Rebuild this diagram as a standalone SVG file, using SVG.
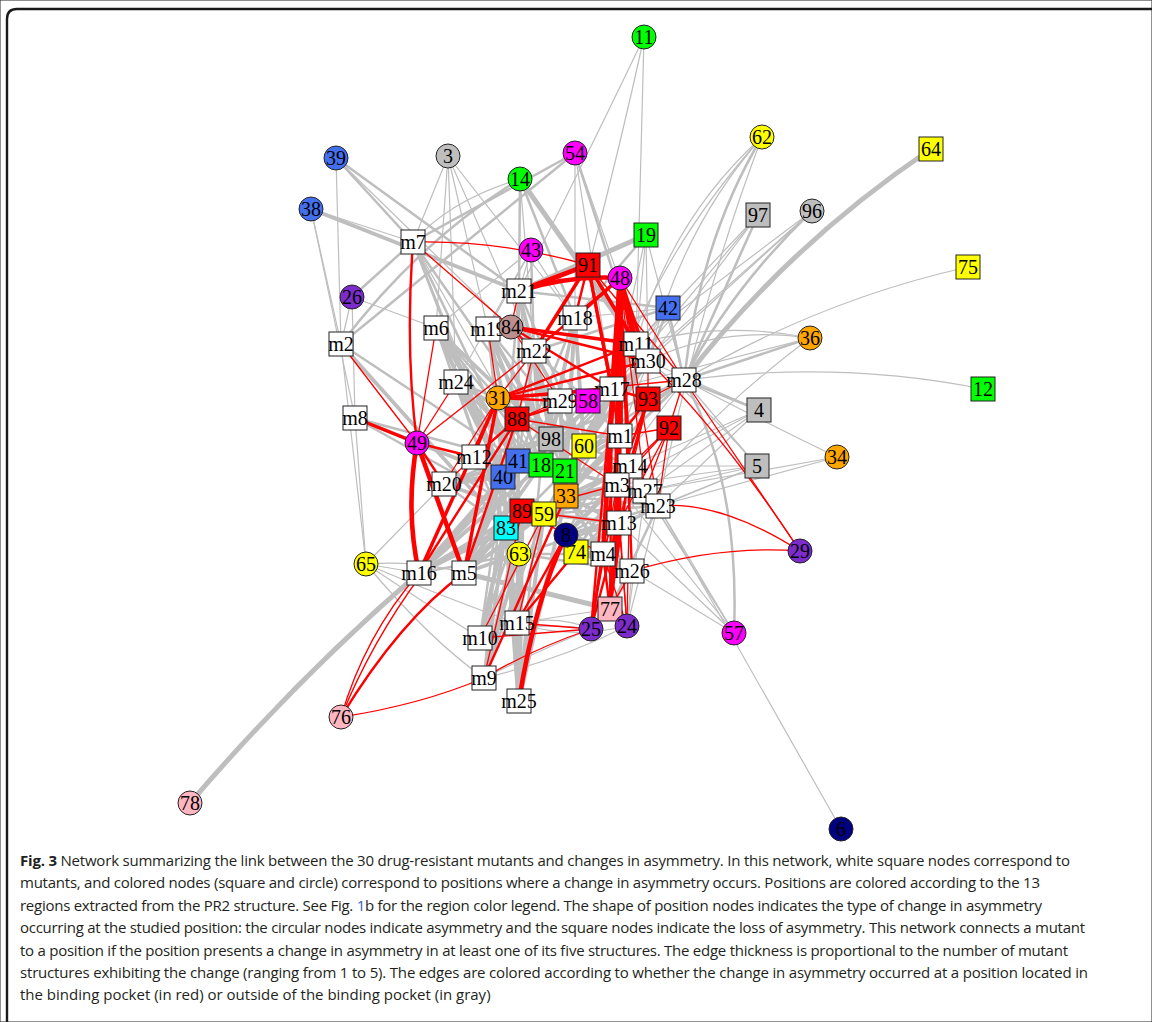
<svg xmlns="http://www.w3.org/2000/svg" width="1152" height="1022" viewBox="0 0 1152 1022">
<style>
path{fill:none;stroke-linecap:round}
.g1{stroke:#bebebe;stroke-width:1.2}.g2{stroke:#bebebe;stroke-width:2.5}.g3{stroke:#bebebe;stroke-width:3.8}.g4{stroke:#bebebe;stroke-width:5}.g5{stroke:#bebebe;stroke-width:6.3}
.r1{stroke:#f00;stroke-width:1.3}.r2{stroke:#f00;stroke-width:2.4}.r3{stroke:#f00;stroke-width:3.5}.r4{stroke:#f00;stroke-width:4.6}.r5{stroke:#f00;stroke-width:5.8}
circle,rect{stroke:#222;stroke-width:1}
.w{fill:#fff}.ye{fill:#ff0}.gr{fill:#0f0}.bl{fill:#4470f0}.mg{fill:#f0f}.gy{fill:#bebebe}.pu{fill:#7b2ccb}.or{fill:#ffa500}.rd{fill:#f00}.cy{fill:#0ff}.nv{fill:#000080}.pk{fill:#ffb6c1}.rb{fill:#bc8f8f}
text.t{font-family:"Liberation Serif",serif;font-size:20px;text-anchor:middle;dominant-baseline:central;fill:#000}
.cap{font-family:"Open Sans","Liberation Sans",sans-serif;font-size:15px;fill:#231f20}
</style>
<rect width="1152" height="1022" fill="#fff" stroke="none"/>
<path d="M7 1022V19Q7 9 17 9H1152" stroke="#1a1a1a" stroke-width="2.4"/>
<g id="connectors">
<g id="edges-gray">
<path class="g1" d="M644 37Q590 150 519 291"/><path class="g1" d="M644 37Q615 170 575 318"/><path class="g1" d="M644 37L636 344"/>
<path class="g2" d="M336 158L413 242"/><path class="g1" d="M336 158L341 344"/><path class="g2" d="M336 158L519 291"/><path class="g1" d="M336 158L534 351"/>
<path class="g1" d="M311 209L413 242"/><path class="g3" d="M311 209L519 291"/><path class="g1" d="M311 209L355 418"/><path class="g1" d="M311 209L341 344"/>
<path class="g1" d="M448 156L413 242"/><path class="g1" d="M448 156L436 328"/><path class="g1" d="M448 156L488 329"/><path class="g1" d="M448 156L534 351"/><path class="g1" d="M448 156L575 318"/><path class="g1" d="M448 156L456 382"/>
<path class="g2" d="M575 153L413 242"/><path class="g2" d="M575 153L341 344"/><path class="g1" d="M575 153L575 318"/><path class="g2" d="M575 153L636 344"/><path class="g1" d="M575 153L648 361"/><path class="g1" d="M575 153L612 389"/>
<path class="g4" d="M520 179L648 361"/><path class="g2" d="M520 179L519 291"/><path class="g2" d="M520 179Q420 240 341 344"/><path class="g1" d="M520 179Q450 200 413 242"/><path class="g1" d="M520 179L534 351"/><path class="g2" d="M520 179L575 318"/>
<path class="g1" d="M531 250L519 291"/><path class="g2" d="M531 250L534 351"/><path class="g1" d="M531 250L488 329"/><path class="g1" d="M531 250L456 382"/><path class="g1" d="M531 250L575 318"/><path class="g1" d="M531 250L436 328"/>
<path class="g4" d="M646 235L519 291"/><path class="g1" d="M646 235L684 380"/><path class="g1" d="M646 235L636 344"/><path class="g1" d="M646 235L648 361"/><path class="g1" d="M646 235L612 389"/><path class="g2" d="M646 235L575 318"/>
<path class="g2" d="M762 137Q700 240 684 380"/><path class="g1" d="M762 137Q680 230 648 361"/><path class="g1" d="M762 137Q670 220 636 344"/><path class="g1" d="M762 137Q700 300 658 506"/><path class="g1" d="M762 137Q660 250 612 389"/>
<path class="g4" d="M931 149Q787 246 684 380"/>
<path class="g2" d="M758 215L684 380"/><path class="g1" d="M758 215L648 361"/><path class="g1" d="M758 215L636 344"/><path class="g1" d="M758 215L612 389"/>
<path class="g2" d="M812 211Q730 290 684 380"/><path class="g1" d="M812 211L648 361"/><path class="g1" d="M812 211L636 344"/><path class="g1" d="M812 211L612 389"/>
<path class="g1" d="M968 267Q820 300 684 380"/><path class="g1" d="M983 389Q840 360 684 380"/>
<path class="g2" d="M810 338L684 380"/><path class="g1" d="M810 338Q720 325 648 361"/><path class="g1" d="M810 338Q720 320 636 344"/><path class="g1" d="M810 338L612 389"/><path class="g1" d="M810 338Q700 420 619 523"/>
<path class="g2" d="M668 308L684 380"/><path class="g1" d="M668 308L636 344"/><path class="g2" d="M668 308L648 361"/><path class="g1" d="M668 308L612 389"/><path class="g1" d="M668 308L575 318"/><path class="g2" d="M668 308L534 351"/><path class="g2" d="M668 308L519 291"/><path class="g1" d="M668 308L620 436"/>
<path class="g2" d="M759 410L684 380"/><path class="g1" d="M759 410L648 361"/><path class="g1" d="M759 410L630 466"/><path class="g1" d="M759 410L645 491"/><path class="g1" d="M759 410L658 506"/><path class="g1" d="M759 410L617 485"/>
<path class="g1" d="M757 466L684 380"/><path class="g1" d="M757 466Q700 400 648 361"/><path class="g1" d="M757 466L630 466"/><path class="g1" d="M757 466L645 491"/><path class="g1" d="M757 466L658 506"/><path class="g1" d="M757 466L617 485"/><path class="g1" d="M757 466L619 523"/>
<path class="g1" d="M837 457Q760 420 684 380"/><path class="g1" d="M837 457L645 491"/><path class="g1" d="M837 457L658 506"/>
<path class="g2" d="M734 633Q740 480 684 380"/><path class="g1" d="M734 633L658 506"/><path class="g1" d="M734 633L645 491"/><path class="g1" d="M734 633L632 571"/><path class="g1" d="M734 633L619 523"/><path class="g1" d="M734 633L617 485"/><path class="g1" d="M734 633L630 466"/>
<path class="g1" d="M841 829L658 506"/>
<path class="g1" d="M366 564L419 573"/><path class="g1" d="M366 564Q420 560 464 573"/><path class="g1" d="M366 564L444 484"/><path class="g1" d="M366 564L341 344"/><path class="g1" d="M366 564L355 418"/><path class="g1" d="M366 564Q420 600 480 638"/><path class="g1" d="M366 564Q430 640 484 678"/><path class="g1" d="M366 564Q450 600 517 623"/>
<path class="g4" d="M190 803Q300 675 419 573"/>
<path class="g2" d="M352 297L413 242"/><path class="g1" d="M352 297L341 344"/><path class="g1" d="M352 297L436 328"/><path class="g1" d="M352 297L355 418"/>
<path class="g3" d="M341 344L506 528"/><path class="g2" d="M341 344L518 461"/><path class="g3" d="M355 418L503 477"/><path class="g2" d="M355 418L518 461"/><path class="g2" d="M355 418L522 511"/>
<path class="g4" d="M464 573L610 609"/><path class="g1" d="M517 623L610 609"/><path class="g2" d="M632 571L610 609"/><path class="g2" d="M658 506L610 609"/>
<path class="g1" d="M517 623Q560 615 591 629"/><path class="g1" d="M480 638Q540 620 591 629"/><path class="g1" d="M484 678Q540 650 591 629"/><path class="g1" d="M632 571L591 629"/><path class="g1" d="M632 571L627 626"/><path class="g1" d="M658 506L627 626"/><path class="g1" d="M645 491L627 626"/><path class="g1" d="M517 623Q570 640 627 626"/><path class="g1" d="M484 678Q560 660 627 626"/>
<path class="g2" d="M588 401L612 389"/><path class="g2" d="M588 401L620 436"/><path class="g2" d="M588 401L534 351"/><path class="g2" d="M498 398L456 382"/><path class="g2" d="M498 398L436 328"/>
<path class="g5" d="M519 701L519 554"/><path class="g4" d="M519 701L506 528"/><path class="g4" d="M519 701L522 511"/><path class="g3" d="M519 701L544 514"/><path class="g3" d="M519 701L503 477"/><path class="g3" d="M519 701L518 461"/><path class="g2" d="M519 701L541 465"/><path class="g3" d="M519 701L566 496"/>
<path class="g3" d="M484 678L506 528"/><path class="g3" d="M484 678L519 554"/><path class="g3" d="M484 678L522 511"/><path class="g2" d="M484 678L503 477"/><path class="g2" d="M484 678L544 514"/>
<path class="g3" d="M480 638L506 528"/><path class="g2" d="M480 638L519 554"/><path class="g2" d="M480 638L522 511"/><path class="g2" d="M480 638L503 477"/><path class="g2" d="M480 638L518 461"/>
<path class="g3" d="M517 623L519 554"/><path class="g3" d="M517 623L506 528"/><path class="g2" d="M517 623L522 511"/><path class="g2" d="M517 623L544 514"/><path class="g2" d="M517 623L503 477"/>
<path class="g4" d="M419 573L503 477"/><path class="g3" d="M419 573L518 461"/><path class="g4" d="M419 573L506 528"/><path class="g3" d="M419 573L522 511"/><path class="g3" d="M419 573L551 439"/><path class="g3" d="M419 573L541 465"/><path class="g2" d="M419 573L519 554"/><path class="g2" d="M419 573L544 514"/>
<path class="g4" d="M464 573L506 528"/><path class="g4" d="M464 573L503 477"/><path class="g4" d="M464 573L522 511"/><path class="g3" d="M464 573L519 554"/><path class="g3" d="M464 573L518 461"/><path class="g3" d="M464 573L541 465"/><path class="g2" d="M464 573L565 471"/><path class="g3" d="M464 573L566 496"/><path class="g3" d="M464 573L544 514"/><path class="g2" d="M464 573L551 439"/>
<path class="g3" d="M444 484L503 477"/><path class="g3" d="M444 484L518 461"/><path class="g3" d="M444 484L522 511"/><path class="g2" d="M444 484L551 439"/><path class="g2" d="M444 484L541 465"/><path class="g2" d="M444 484L506 528"/>
<path class="g3" d="M474 457L518 461"/><path class="g3" d="M474 457L503 477"/><path class="g3" d="M474 457L541 465"/><path class="g3" d="M474 457L551 439"/><path class="g2" d="M474 457L522 511"/><path class="g2" d="M474 457L565 471"/><path class="g2" d="M474 457L506 528"/>
<path class="g3" d="M456 382L518 461"/><path class="g3" d="M456 382L551 439"/><path class="g3" d="M456 382L503 477"/><path class="g2" d="M456 382L541 465"/><path class="g2" d="M456 382L522 511"/><path class="g2" d="M456 382L506 528"/>
<path class="g4" d="M436 328L518 461"/><path class="g3" d="M436 328L503 477"/><path class="g3" d="M436 328L551 439"/><path class="g2" d="M436 328L522 511"/><path class="g2" d="M436 328L541 465"/><path class="g2" d="M436 328L506 528"/>
<path class="g3" d="M488 329L551 439"/><path class="g3" d="M488 329L518 461"/><path class="g3" d="M488 329L541 465"/><path class="g2" d="M488 329L565 471"/><path class="g2" d="M488 329L584 446"/><path class="g2" d="M488 329L503 477"/>
<path class="g3" d="M534 351L551 439"/><path class="g3" d="M534 351L541 465"/><path class="g3" d="M534 351L565 471"/><path class="g3" d="M534 351L584 446"/><path class="g2" d="M534 351L518 461"/><path class="g2" d="M534 351L566 496"/><path class="g2" d="M534 351L503 477"/>
<path class="g2" d="M519 291L551 439"/><path class="g2" d="M519 291L518 461"/><path class="g2" d="M519 291L541 465"/><path class="g2" d="M519 291L584 446"/><path class="g2" d="M519 291L565 471"/><path class="g2" d="M519 291L503 477"/>
<path class="g2" d="M575 318L551 439"/><path class="g3" d="M575 318L584 446"/><path class="g3" d="M575 318L565 471"/><path class="g2" d="M575 318L541 465"/><path class="g2" d="M575 318L566 496"/><path class="g2" d="M575 318L518 461"/>
<path class="g2" d="M413 242L518 461"/><path class="g2" d="M413 242L551 439"/><path class="g2" d="M413 242L503 477"/><path class="g1" d="M413 242L541 465"/><path class="g1" d="M413 242L522 511"/>
<path class="g3" d="M560 401L551 439"/><path class="g3" d="M560 401L584 446"/><path class="g3" d="M560 401L565 471"/><path class="g3" d="M560 401L566 496"/><path class="g2" d="M560 401L541 465"/><path class="g2" d="M560 401L518 461"/>
<path class="g3" d="M612 389L584 446"/><path class="g3" d="M612 389L565 471"/><path class="g3" d="M612 389L551 439"/><path class="g3" d="M612 389L566 496"/><path class="g2" d="M612 389L541 465"/><path class="g2" d="M612 389L544 514"/>
<path class="g3" d="M636 344L584 446"/><path class="g2" d="M636 344L565 471"/><path class="g2" d="M636 344L551 439"/><path class="g2" d="M636 344L566 496"/><path class="g2" d="M636 344L541 465"/>
<path class="g3" d="M648 361L584 446"/><path class="g3" d="M648 361L565 471"/><path class="g2" d="M648 361L566 496"/><path class="g2" d="M648 361L551 439"/><path class="g2" d="M648 361L541 465"/>
<path class="g2" d="M684 380L584 446"/><path class="g2" d="M684 380L565 471"/><path class="g2" d="M684 380L566 496"/><path class="g2" d="M684 380L551 439"/><path class="g1" d="M684 380L566 535"/><path class="g1" d="M684 380L544 514"/>
<path class="g3" d="M620 436L584 446"/><path class="g3" d="M620 436L565 471"/><path class="g3" d="M620 436L566 496"/><path class="g2" d="M620 436L541 465"/><path class="g2" d="M620 436L544 514"/><path class="g2" d="M620 436L566 535"/><path class="g2" d="M620 436L551 439"/>
<path class="g3" d="M630 466L565 471"/><path class="g3" d="M630 466L566 496"/><path class="g2" d="M630 466L584 446"/><path class="g2" d="M630 466L544 514"/><path class="g2" d="M630 466L566 535"/><path class="g2" d="M630 466L576 552"/>
<path class="g3" d="M617 485L566 496"/><path class="g3" d="M617 485L565 471"/><path class="g3" d="M617 485L544 514"/><path class="g3" d="M617 485L566 535"/><path class="g2" d="M617 485L576 552"/><path class="g2" d="M617 485L541 465"/>
<path class="g3" d="M645 491L566 496"/><path class="g2" d="M645 491L565 471"/><path class="g2" d="M645 491L544 514"/><path class="g2" d="M645 491L566 535"/><path class="g2" d="M645 491L576 552"/>
<path class="g2" d="M658 506L566 496"/><path class="g2" d="M658 506L566 535"/><path class="g2" d="M658 506L576 552"/><path class="g2" d="M658 506L544 514"/>
<path class="g3" d="M619 523L566 496"/><path class="g3" d="M619 523L544 514"/><path class="g3" d="M619 523L566 535"/><path class="g3" d="M619 523L576 552"/><path class="g2" d="M619 523L522 511"/><path class="g2" d="M619 523L519 554"/>
<path class="g3" d="M603 554L566 535"/><path class="g3" d="M603 554L576 552"/><path class="g3" d="M603 554L566 496"/><path class="g3" d="M603 554L544 514"/><path class="g2" d="M603 554L522 511"/><path class="g2" d="M603 554L519 554"/>
<path class="g3" d="M632 571L576 552"/><path class="g3" d="M632 571L566 535"/><path class="g2" d="M632 571L566 496"/><path class="g2" d="M632 571L544 514"/><path class="g2" d="M632 571L519 554"/>
</g>
<g id="edges-red">
<path class="r1" d="M413 242Q500 240 588 265"/><path class="r2" d="M413 242Q405 350 417 443"/><path class="r1" d="M413 242L511 327"/>
<path class="r3" d="M355 418L417 443"/><path class="r4" d="M419 573Q405 510 417 443"/><path class="r4" d="M464 573L417 443"/><path class="r2" d="M444 484L417 443"/><path class="r2" d="M474 457L417 443"/><path class="r1" d="M436 328L417 443"/><path class="r1" d="M341 344L417 443"/><path class="r1" d="M456 382L417 443"/><path class="r1" d="M534 351L417 443"/>
<path class="r3" d="M498 398L612 389"/><path class="r2" d="M498 398L648 361"/><path class="r1" d="M498 398L684 380"/><path class="r2" d="M498 398L636 344"/><path class="r1" d="M498 398L534 351"/><path class="r1" d="M498 398L488 329"/><path class="r3" d="M498 398L419 573"/><path class="r3" d="M498 398L464 573"/><path class="r1" d="M498 398L474 457"/><path class="r1" d="M498 398L444 484"/><path class="r2" d="M498 398L560 401"/>
<path class="r2" d="M517 419L612 389"/><path class="r1" d="M517 419L560 401"/><path class="r2" d="M517 419L474 457"/><path class="r2" d="M517 419L419 573"/><path class="r2" d="M517 419L464 573"/><path class="r1" d="M517 419L534 351"/><path class="r1" d="M517 419L620 436"/><path class="r1" d="M517 419L617 485"/><path class="r1" d="M517 419L444 484"/>
<path class="r3" d="M511 327L636 344"/><path class="r2" d="M511 327L648 361"/><path class="r2" d="M511 327L612 389"/><path class="r2" d="M511 327L534 351"/><path class="r1" d="M511 327L560 401"/><path class="r1" d="M511 327L519 291"/>
<path class="r4" d="M588 265L519 291"/><path class="r3" d="M588 265L534 351"/><path class="r2" d="M588 265L575 318"/><path class="r3" d="M588 265L636 344"/><path class="r2" d="M588 265L648 361"/><path class="r3" d="M588 265L612 389"/><path class="r2" d="M588 265L620 436"/><path class="r1" d="M588 265L684 380"/>
<path class="r4" d="M620 278Q570 275 519 291"/><path class="r3" d="M620 278L575 318"/><path class="r5" d="M620 278L636 344"/><path class="r3" d="M620 278L648 361"/><path class="r4" d="M620 278L612 389"/><path class="r5" d="M620 278L620 436"/><path class="r5" d="M620 278L617 485"/><path class="r4" d="M620 278L619 523"/><path class="r4" d="M620 278L603 554"/><path class="r2" d="M620 278L630 466"/><path class="r1" d="M620 278L684 380"/><path class="r2" d="M620 278L632 571"/><path class="r1" d="M620 278L645 491"/><path class="r2" d="M620 278L534 351"/><path class="r1" d="M620 278L658 506"/>
<path class="r1" d="M648 399L684 380"/><path class="r2" d="M648 399L612 389"/><path class="r2" d="M648 399L620 436"/><path class="r2" d="M648 399L630 466"/><path class="r2" d="M648 399L617 485"/><path class="r1" d="M648 399L648 361"/><path class="r1" d="M648 399L619 523"/><path class="r1" d="M648 399L603 554"/>
<path class="r1" d="M669 428L684 380"/><path class="r1" d="M669 428L630 466"/><path class="r1" d="M669 428L645 491"/><path class="r1" d="M669 428L658 506"/><path class="r1" d="M669 428L617 485"/><path class="r1" d="M669 428L619 523"/><path class="r1" d="M669 428L620 436"/>
<path class="r1" d="M684 380L800 551"/><path class="r1" d="M648 361Q720 430 800 551"/><path class="r1" d="M800 551Q720 500 658 506"/><path class="r1" d="M800 551Q720 545 632 571"/>
<path class="r2" d="M610 609L603 554"/><path class="r3" d="M610 609L619 523"/><path class="r3" d="M610 609L617 485"/><path class="r1" d="M610 609L632 571"/><path class="r2" d="M610 609L620 436"/><path class="r2" d="M610 609L612 389"/><path class="r2" d="M610 609L630 466"/>
<path class="r1" d="M591 629L517 623"/><path class="r1" d="M591 629Q530 650 484 678"/><path class="r1" d="M591 629L480 638"/><path class="r2" d="M591 629L603 554"/><path class="r2" d="M591 629L619 523"/><path class="r1" d="M591 629L617 485"/><path class="r2" d="M591 629L620 436"/><path class="r2" d="M591 629L612 389"/>
<path class="r1" d="M627 626L603 554"/><path class="r1" d="M627 626L619 523"/><path class="r1" d="M627 626L617 485"/><path class="r1" d="M627 626L630 466"/>
<path class="r1" d="M341 717Q365 635 419 573"/><path class="r1" d="M341 717Q372 641 421 575"/><path class="r2" d="M341 717Q400 620 464 573"/><path class="r1" d="M341 717Q420 705 484 678"/>
<path class="r4" d="M519 701Q535 600 566 535"/><path class="r2" d="M517 623L566 535"/><path class="r2" d="M517 623L576 552"/><path class="r1" d="M517 623L544 514"/><path class="r2" d="M484 678L566 496"/><path class="r1" d="M484 678L522 511"/><path class="r1" d="M480 638L544 514"/>
<path class="r1" d="M522 511L619 523"/><path class="r1" d="M522 511L617 485"/><path class="r1" d="M522 511L603 554"/>
</g>
</g>
<g id="nodes">
<g id="n11"><circle class="gr" cx="644" cy="37" r="12"/><text class="t" x="644" y="37">11</text></g>
<g id="n39"><circle class="bl" cx="336" cy="158" r="12"/><text class="t" x="336" y="158">39</text></g>
<g id="n3"><circle class="gy" cx="448" cy="156" r="12"/><text class="t" x="448" y="156">3</text></g>
<g id="n54"><circle class="mg" cx="575" cy="153" r="12"/><text class="t" x="575" y="153">54</text></g>
<g id="n14"><circle class="gr" cx="520" cy="179" r="12"/><text class="t" x="520" y="179">14</text></g>
<g id="n62"><circle class="ye" cx="762" cy="137" r="12"/><text class="t" x="762" y="137">62</text></g>
<g id="n38"><circle class="bl" cx="311" cy="209" r="12"/><text class="t" x="311" y="209">38</text></g>
<g id="n96"><circle class="gy" cx="812" cy="211" r="12"/><text class="t" x="812" y="211">96</text></g>
<g id="n43"><circle class="mg" cx="531" cy="250" r="12"/><text class="t" x="531" y="250">43</text></g>
<g id="n26"><circle class="pu" cx="352" cy="297" r="12"/><text class="t" x="352" y="297">26</text></g>
<g id="n36"><circle class="or" cx="810" cy="338" r="12"/><text class="t" x="810" y="338">36</text></g>
<g id="n34"><circle class="or" cx="837" cy="457" r="12"/><text class="t" x="837" y="457">34</text></g>
<g id="n65"><circle class="ye" cx="366" cy="564" r="12"/><text class="t" x="366" y="564">65</text></g>
<g id="n29"><circle class="pu" cx="800" cy="551" r="12"/><text class="t" x="800" y="551">29</text></g>
<g id="n57"><circle class="mg" cx="734" cy="633" r="12"/><text class="t" x="734" y="633">57</text></g>
<g id="n76"><circle class="pk" cx="341" cy="717" r="12"/><text class="t" x="341" y="717">76</text></g>
<g id="n78"><circle class="pk" cx="190" cy="803" r="12"/><text class="t" x="190" y="803">78</text></g>
<g id="n6"><circle class="nv" cx="841" cy="829" r="12"/><text class="t" x="841" y="829">6</text></g>
<g id="n64"><rect class="ye" x="919" y="137" width="24" height="24"/><text class="t" x="931" y="149">64</text></g>
<g id="n97"><rect class="gy" x="746" y="203" width="24" height="24"/><text class="t" x="758" y="215">97</text></g>
<g id="n19"><rect class="gr" x="634" y="223" width="24" height="24"/><text class="t" x="646" y="235">19</text></g>
<g id="n-m7"><rect class="w" x="401" y="230" width="24" height="24"/><text class="t" x="413" y="242">m7</text></g>
<g id="n91"><rect class="rd" x="576" y="253" width="24" height="24"/><text class="t" x="588" y="265">91</text></g>
<g id="n48"><circle class="mg" cx="620" cy="278" r="12"/><text class="t" x="620" y="278">48</text></g>
<g id="n75"><rect class="ye" x="956" y="255" width="24" height="24"/><text class="t" x="968" y="267">75</text></g>
<g id="n-m21"><rect class="w" x="507" y="279" width="24" height="24"/><text class="t" x="519" y="291">m21</text></g>
<g id="n42"><rect class="bl" x="656" y="296" width="24" height="24"/><text class="t" x="668" y="308">42</text></g>
<g id="n-m18"><rect class="w" x="563" y="306" width="24" height="24"/><text class="t" x="575" y="318">m18</text></g>
<g id="n-m6"><rect class="w" x="424" y="316" width="24" height="24"/><text class="t" x="436" y="328">m6</text></g>
<g id="n-m19"><rect class="w" x="476" y="317" width="24" height="24"/><text class="t" x="488" y="329">m19</text></g>
<g id="n84"><circle class="rb" cx="511" cy="327" r="12"/><text class="t" x="511" y="327">84</text></g>
<g id="n-m2"><rect class="w" x="329" y="332" width="24" height="24"/><text class="t" x="341" y="344">m2</text></g>
<g id="n-m22"><rect class="w" x="522" y="339" width="24" height="24"/><text class="t" x="534" y="351">m22</text></g>
<g id="n-m11"><rect class="w" x="624" y="332" width="24" height="24"/><text class="t" x="636" y="344">m11</text></g>
<g id="n-m30"><rect class="w" x="636" y="349" width="24" height="24"/><text class="t" x="648" y="361">m30</text></g>
<g id="n-m28"><rect class="w" x="672" y="368" width="24" height="24"/><text class="t" x="684" y="380">m28</text></g>
<g id="n-m24"><rect class="w" x="444" y="370" width="24" height="24"/><text class="t" x="456" y="382">m24</text></g>
<g id="n-m17"><rect class="w" x="600" y="377" width="24" height="24"/><text class="t" x="612" y="389">m17</text></g>
<g id="n93"><rect class="rd" x="636" y="387" width="24" height="24"/><text class="t" x="648" y="399">93</text></g>
<g id="n-m29"><rect class="w" x="548" y="389" width="24" height="24"/><text class="t" x="560" y="401">m29</text></g>
<g id="n58"><rect class="mg" x="576" y="389" width="24" height="24"/><text class="t" x="588" y="401">58</text></g>
<g id="n31"><circle class="or" cx="498" cy="398" r="12"/><text class="t" x="498" y="398">31</text></g>
<g id="n88"><rect class="rd" x="505" y="407" width="24" height="24"/><text class="t" x="517" y="419">88</text></g>
<g id="n-m8"><rect class="w" x="343" y="406" width="24" height="24"/><text class="t" x="355" y="418">m8</text></g>
<g id="n4"><rect class="gy" x="747" y="398" width="24" height="24"/><text class="t" x="759" y="410">4</text></g>
<g id="n92"><rect class="rd" x="657" y="416" width="24" height="24"/><text class="t" x="669" y="428">92</text></g>
<g id="n-m1"><rect class="w" x="608" y="424" width="24" height="24"/><text class="t" x="620" y="436">m1</text></g>
<g id="n98"><rect class="gy" x="539" y="427" width="24" height="24"/><text class="t" x="551" y="439">98</text></g>
<g id="n60"><rect class="ye" x="572" y="434" width="24" height="24"/><text class="t" x="584" y="446">60</text></g>
<g id="n49"><circle class="mg" cx="417" cy="443" r="12"/><text class="t" x="417" y="443">49</text></g>
<g id="n-m12"><rect class="w" x="462" y="445" width="24" height="24"/><text class="t" x="474" y="457">m12</text></g>
<g id="n40"><rect class="bl" x="491" y="465" width="24" height="24"/><text class="t" x="503" y="477">40</text></g>
<g id="n41"><rect class="bl" x="506" y="449" width="24" height="24"/><text class="t" x="518" y="461">41</text></g>
<g id="n18"><rect class="gr" x="529" y="453" width="24" height="24"/><text class="t" x="541" y="465">18</text></g>
<g id="n21"><rect class="gr" x="553" y="459" width="24" height="24"/><text class="t" x="565" y="471">21</text></g>
<g id="n-m14"><rect class="w" x="618" y="454" width="24" height="24"/><text class="t" x="630" y="466">m14</text></g>
<g id="n5"><rect class="gy" x="745" y="454" width="24" height="24"/><text class="t" x="757" y="466">5</text></g>
<g id="n-m20"><rect class="w" x="432" y="472" width="24" height="24"/><text class="t" x="444" y="484">m20</text></g>
<g id="n-m3"><rect class="w" x="605" y="473" width="24" height="24"/><text class="t" x="617" y="485">m3</text></g>
<g id="n-m27"><rect class="w" x="633" y="479" width="24" height="24"/><text class="t" x="645" y="491">m27</text></g>
<g id="n33"><rect class="or" x="554" y="484" width="24" height="24"/><text class="t" x="566" y="496">33</text></g>
<g id="n-m23"><rect class="w" x="646" y="494" width="24" height="24"/><text class="t" x="658" y="506">m23</text></g>
<g id="n83"><rect class="cy" x="494" y="516" width="24" height="24"/><text class="t" x="506" y="528">83</text></g>
<g id="n89"><rect class="rd" x="510" y="499" width="24" height="24"/><text class="t" x="522" y="511">89</text></g>
<g id="n59"><rect class="ye" x="532" y="502" width="24" height="24"/><text class="t" x="544" y="514">59</text></g>
<g id="n-m13"><rect class="w" x="607" y="511" width="24" height="24"/><text class="t" x="619" y="523">m13</text></g>
<g id="n74"><rect class="ye" x="564" y="540" width="24" height="24"/><text class="t" x="576" y="552">74</text></g>
<g id="n8"><circle class="nv" cx="566" cy="535" r="12"/><text class="t" x="566" y="535">8</text></g>
<g id="n63"><circle class="ye" cx="519" cy="554" r="12"/><text class="t" x="519" y="554">63</text></g>
<g id="n-m4"><rect class="w" x="591" y="542" width="24" height="24"/><text class="t" x="603" y="554">m4</text></g>
<g id="n-m26"><rect class="w" x="620" y="559" width="24" height="24"/><text class="t" x="632" y="571">m26</text></g>
<g id="n-m16"><rect class="w" x="407" y="561" width="24" height="24"/><text class="t" x="419" y="573">m16</text></g>
<g id="n-m5"><rect class="w" x="452" y="561" width="24" height="24"/><text class="t" x="464" y="573">m5</text></g>
<g id="n77"><rect class="pk" x="598" y="597" width="24" height="24"/><text class="t" x="610" y="609">77</text></g>
<g id="n25"><circle class="pu" cx="591" cy="629" r="12"/><text class="t" x="591" y="629">25</text></g>
<g id="n24"><circle class="pu" cx="627" cy="626" r="12"/><text class="t" x="627" y="626">24</text></g>
<g id="n-m15"><rect class="w" x="505" y="611" width="24" height="24"/><text class="t" x="517" y="623">m15</text></g>
<g id="n-m10"><rect class="w" x="468" y="626" width="24" height="24"/><text class="t" x="480" y="638">m10</text></g>
<g id="n-m9"><rect class="w" x="472" y="666" width="24" height="24"/><text class="t" x="484" y="678">m9</text></g>
<g id="n-m25"><rect class="w" x="507" y="689" width="24" height="24"/><text class="t" x="519" y="701">m25</text></g>
<g id="n12"><rect class="gr" x="971" y="377" width="24" height="24"/><text class="t" x="983" y="389">12</text></g>
</g>
<g id="caption" class="cap">
<text x="20" y="866" textLength="1050" lengthAdjust="spacing"><tspan font-weight="bold">Fig. 3</tspan> Network summarizing the link between the 30 drug-resistant mutants and changes in asymmetry. In this network, white square nodes correspond to</text>
<text x="20" y="888" textLength="1020" lengthAdjust="spacing">mutants, and colored nodes (square and circle) correspond to positions where a change in asymmetry occurs. Positions are colored according to the 13</text>
<text x="20" y="911" textLength="1022" lengthAdjust="spacing">regions extracted from the PR2 structure. See Fig. <tspan fill="#2f64c8">1</tspan>b for the region color legend. The shape of position nodes indicates the type of change in asymmetry</text>
<text x="20" y="933" textLength="1065" lengthAdjust="spacing">occurring at the studied position: the circular nodes indicate asymmetry and the square nodes indicate the loss of asymmetry. This network connects a mutant</text>
<text x="20" y="956" textLength="1048" lengthAdjust="spacing">to a position if the position presents a change in asymmetry in at least one of its five structures. The edge thickness is proportional to the number of mutant</text>
<text x="20" y="978" textLength="1068" lengthAdjust="spacing">structures exhibiting the change (ranging from 1 to 5). The edges are colored according to whether the change in asymmetry occurred at a position located in</text>
<text x="20" y="1000">the binding pocket (in red) or outside of the binding pocket (in gray)</text>
</g>
</svg>
